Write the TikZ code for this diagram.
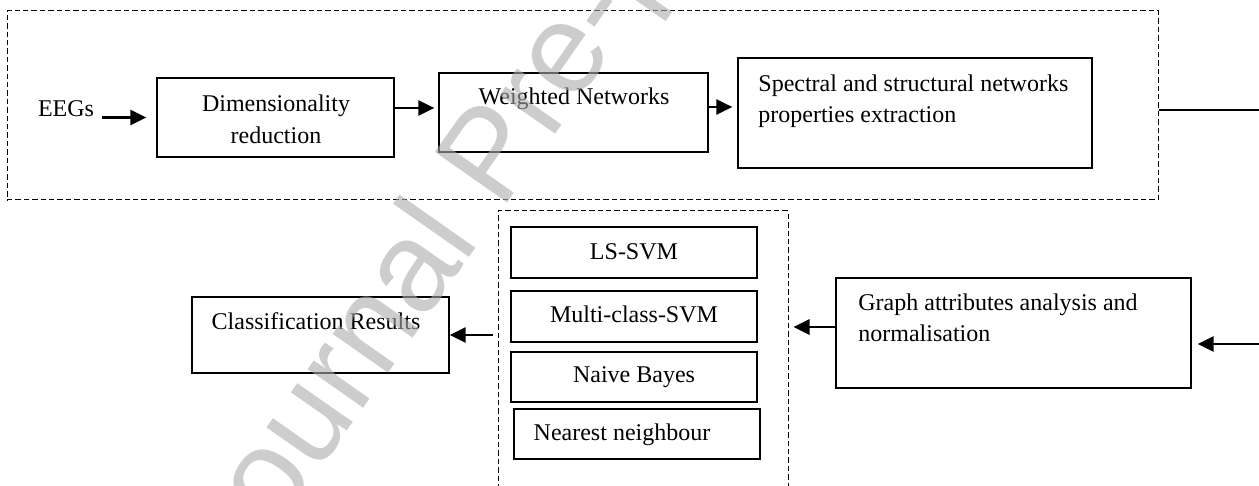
\documentclass[tikz,border=0pt]{standalone}
\usepackage{fontspec}
\setmainfont{Liberation Serif}
\newfontfamily\wmfont{Liberation Sans}
\usetikzlibrary{arrows.meta,fit}
\tikzset{
  box/.style={draw, line width=0.6pt, inner sep=0pt},
  grp/.style={draw, line width=0.5pt, dash pattern=on 2.7pt off 1.5pt, inner sep=0pt},
  lbl/.style={inner sep=0pt, font=\fontsize{12}{15.5}\selectfont},
  arr/.style={line width=1.35pt, -{Triangle[length=8pt,width=7.5pt]}},
  wm/.style={inner sep=0pt, font=\wmfont\fontsize{64}{64}\selectfont, text=black!33, text opacity=0.6},
}
\begin{document}
\begin{tikzpicture}[x=0.5pt,y=-0.5pt]
\useasboundingbox (0,0) rectangle (1259,486);
\node[grp, fit={(7,11)(1158,200)}] (pre) {};
\node[grp, fit={(498,211)(788,492)}] (clf) {};
\node[lbl, anchor=base] (eegs) at (66,117) {EEGs};
\node[box, fit={(157,78)(394,157)}] (dimred) {};
\node[lbl, align=center, font=\fontsize{12}{16}\selectfont] (dimtxt) at (276,119) {Dimensionality\\reduction};
\node[box, fit={(439,73)(708,152)}] (wnet) {};
\node[lbl, anchor=base] (wnettxt) at (574,105) {Weighted Networks};
\node[box, fit={(738,58)(1092,168)}] (spec) {};
\node[lbl, anchor=north west, align=left] (spectxt) at (758,74) {Spectral and structural networks\\properties extraction};
\node[box, fit={(836,278)(1191,388)}] (graph) {};
\node[lbl, anchor=north west, align=left] (graphtxt) at (858,293) {Graph attributes analysis and\\normalisation};
\node[box, fit={(192,297)(449,373)}] (res) {};
\node[lbl, anchor=base] (restxt) at (316,329) {Classification Results};
\node[box, fit={(511,227)(757,278)}] (lssvm) {};
\node[lbl, anchor=base] (lssvmtxt) at (634,260) {LS-SVM};
\node[box, fit={(511,291)(757,342)}] (mcsvm) {};
\node[lbl, anchor=base] (mcsvmtxt) at (634,323) {Multi-class-SVM};
\node[box, fit={(511,352)(757,402)}] (nb) {};
\node[lbl, anchor=base] (nbtxt) at (634,383) {Naive Bayes};
\node[box, fit={(514,409)(760,459)}] (nn) {};
\node[lbl, anchor=base] (nntxt) at (622,440) {Nearest neighbour};
\coordinate (rtop) at (1259,110);
\coordinate (rbot) at (1259,344);
\coordinate (g2c) at ([yshift=3pt]graph.west);
\draw[arr, shorten <=4pt, shorten >=5pt] (eegs.east |- dimred.west) -- (dimred.west);
\draw[arr, shorten >=2pt] ([yshift=4.75pt]dimred.east) -- ([yshift=2.25pt]wnet.west);
\draw[arr, shorten >=2.5pt] ([yshift=2.75pt]wnet.east) -- ([yshift=3pt]spec.west);
\draw[line width=0.7pt] (pre.east |- rtop) -- (rtop);
\draw[arr, shorten >=3pt] (rbot) -- (graph.east |- rbot);
\draw[arr, shorten >=2.5pt] (g2c) -- (g2c -| clf.east);
\draw[arr, shorten <=2.5pt] (clf.west |- res.east) -- (res.east);
\node[wm, rotate=55, anchor=base west] (wmark) at (240,585) {Journal Pre-proof};
\end{tikzpicture}
\end{document}
